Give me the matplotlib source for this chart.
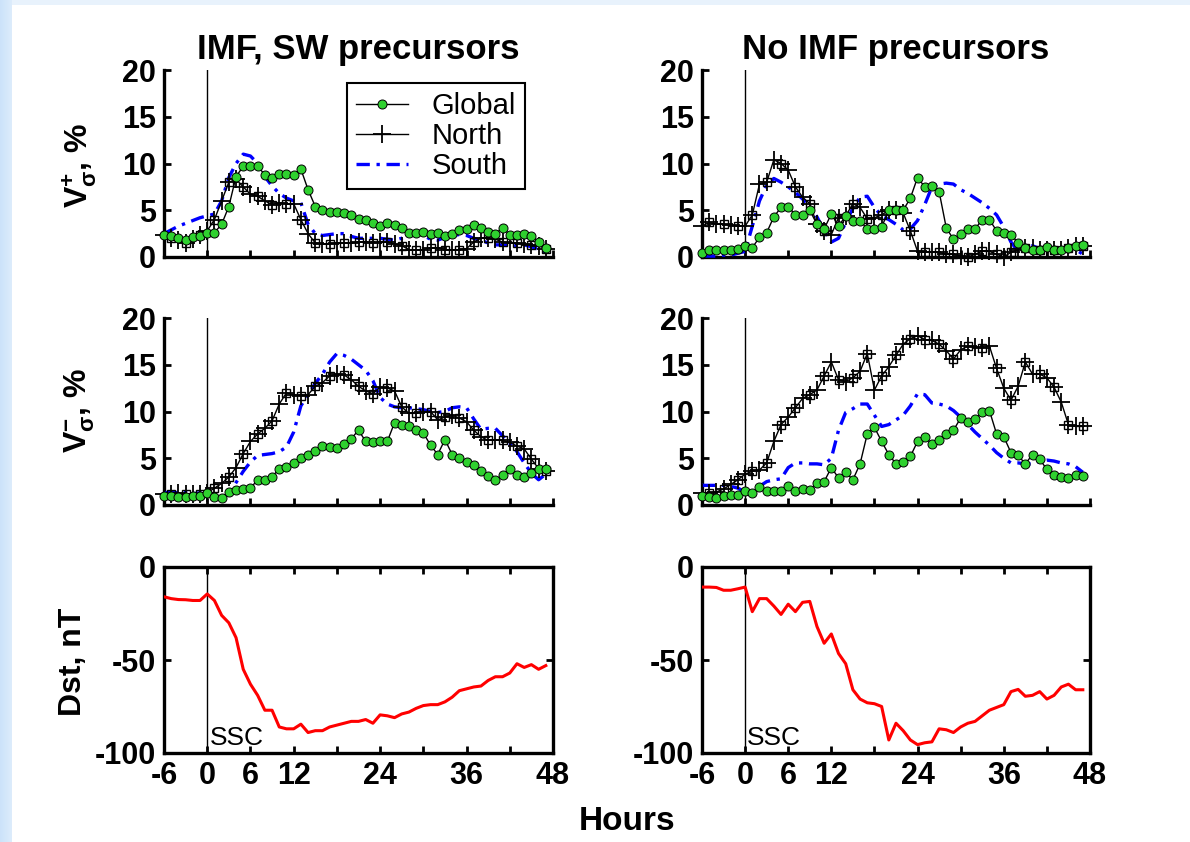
import numpy as np
import matplotlib
matplotlib.use("Agg")
import matplotlib.pyplot as plt
from matplotlib.lines import Line2D

plt.rcParams['font.family'] = ['Liberation Sans', 'DejaVu Sans']
plt.rcParams['font.weight'] = 'bold'
plt.rcParams['axes.unicode_minus'] = False
plt.rcParams['mathtext.fontset'] = 'custom'
plt.rcParams['mathtext.rm'] = 'Liberation Sans'
plt.rcParams['mathtext.bf'] = 'Liberation Sans:bold'
plt.rcParams['mathtext.it'] = 'Liberation Sans'

# ---- data: hourly values from 6 h before SSC to 47 h after ----
hours = list(range(-6, 48))

# V_sigma^+ (%) -- IMF, SW precursors
vp_imf_global = [2.3, 2.2, 2.0, 1.8, 2.1, 2.2, 2.6, 2.6, 3.5, 5.4, 8.6, 9.7, 9.7, 9.7,
                 8.8, 8.5, 8.9, 8.9, 8.8, 9.4, 7.2, 5.4, 5.0, 4.8, 4.8, 4.7, 4.5, 4.1,
                 4.0, 3.6, 3.3, 3.6, 3.4, 3.1, 2.6, 2.6, 2.7, 2.5, 2.6, 2.2, 2.5, 2.9,
                 3.0, 3.4, 3.1, 2.7, 2.5, 3.1, 2.4, 2.4, 2.5, 2.2, 1.6, 1.0]
vp_imf_north = [2.3, 2.0, 1.8, 1.5, 1.9, 2.3, 2.8, 4.0, 6.0, 8.0, 8.3, 7.5, 6.7, 6.5,
                6.0, 5.6, 5.8, 5.7, 5.7, 4.0, 2.5, 1.5, 1.4, 1.4, 1.5, 1.5, 1.5, 1.6,
                1.6, 1.5, 1.6, 1.6, 1.4, 1.2, 0.8, 0.7, 0.8, 1.0, 1.0, 0.8, 0.7, 0.8,
                0.9, 1.6, 2.0, 2.0, 1.9, 1.6, 1.5, 1.5, 1.4, 1.3, 1.2, 0.9]
vp_imf_south = [2.5, 2.9, 3.3, 3.6, 3.9, 4.2, 4.4, 4.6, 6.0, 8.5, 10.0, 11.0, 10.8, 10.0,
                8.6, 7.6, 6.8, 6.3, 6.0, 5.8, 3.5, 2.5, 2.3, 2.4, 2.5, 2.5, 2.2, 2.0,
                2.0, 2.0, 2.0, 1.9, 1.8, 2.0, 2.4, 2.6, 2.3, 1.9, 1.8, 2.1, 2.3, 2.4,
                2.3, 2.0, 1.8, 1.5, 1.3, 1.3, 1.2, 1.2, 1.3, 1.1, 0.8, 0.5]

# V_sigma^+ (%) -- no IMF precursors
vp_no_global = [0.4, 0.8, 0.8, 0.8, 0.7, 0.9, 1.2, 1.0, 2.1, 2.6, 4.3, 5.3, 5.4, 4.5,
                4.5, 5.0, 3.5, 3.0, 4.6, 3.3, 4.4, 3.9, 3.9, 3.0, 3.0, 3.2, 5.0, 5.0,
                5.0, 6.3, 8.5, 7.5, 7.6, 7.0, 3.1, 1.9, 2.5, 3.0, 3.0, 4.0, 4.0, 2.8,
                2.6, 2.4, 1.5, 1.0, 0.8, 0.8, 1.1, 0.8, 0.7, 1.0, 1.2, 1.3]
vp_no_north = [3.3, 3.7, 3.5, 3.5, 3.4, 3.3, 3.3, 4.5, 7.8, 8.0, 10.4, 10.0, 9.3, 7.5,
               6.4, 5.7, 3.5, 2.8, 2.4, 4.2, 4.4, 5.7, 5.3, 4.1, 4.2, 4.5, 5.0, 5.0,
               4.7, 2.8, 0.6, 0.5, 0.5, 0.5, 0.3, 0.3, 0.1, 0.0, 0.3, 0.6, 0.6, 0.3,
               0.0, 0.5, 0.8, 1.0, 1.0, 0.8, 0.7, 0.8, 0.8, 1.0, 1.2, 1.2]
vp_no_south = [0.1, 0.1, 0.1, 0.2, 0.2, 0.4, 0.6, 3.3, 6.0, 7.7, 8.4, 8.0, 7.5, 6.9,
               6.2, 5.3, 4.3, 2.8, 1.6, 2.0, 3.7, 5.2, 6.4, 6.5, 5.3, 4.4, 4.0, 3.5,
               2.9, 3.0, 3.9, 5.6, 7.5, 7.8, 7.9, 7.8, 7.2, 6.8, 6.3, 5.8, 5.2, 4.5,
               3.2, 1.6, 0.6, 1.0, 1.2, 0.9, 0.6, 0.6, 0.5, 0.8, 0.8, 0.3]

# V_sigma^- (%) -- IMF, SW precursors
vm_imf_global = [1.0, 1.0, 0.9, 0.9, 1.0, 1.0, 1.3, 0.9, 0.8, 1.4, 1.6, 1.7, 1.8, 2.7,
                 2.7, 3.0, 3.9, 4.1, 4.5, 5.0, 5.3, 5.8, 6.3, 6.2, 6.1, 6.5, 7.1, 8.0,
                 6.8, 6.7, 6.8, 6.8, 8.8, 8.6, 8.5, 8.0, 7.7, 6.4, 5.4, 7.0, 5.4, 5.0,
                 4.6, 4.3, 3.6, 3.1, 2.7, 3.2, 3.8, 3.2, 3.0, 3.4, 3.8, 3.8]
vm_imf_north = [1.2, 1.2, 1.3, 1.2, 1.2, 1.2, 1.3, 1.8, 2.3, 3.0, 4.0, 5.5, 6.8, 7.6,
                8.2, 9.0, 10.8, 12.0, 11.8, 11.7, 11.8, 12.7, 13.1, 13.8, 14.0, 13.9, 13.4, 12.7,
                12.2, 11.9, 12.6, 12.5, 12.2, 10.5, 9.8, 9.8, 10.0, 10.0, 9.1, 9.4, 9.6, 9.3,
                8.9, 8.0, 7.3, 6.9, 7.0, 6.9, 6.7, 6.3, 6.0, 4.9, 3.9, 3.6]
vm_imf_south = [1.3, 1.4, 1.3, 1.4, 1.2, 1.3, 1.0, 0.8, 0.7, 1.2, 2.4, 3.6, 4.6, 5.3,
                5.4, 5.5, 5.7, 6.2, 7.8, 10.6, 11.8, 13.0, 14.0, 15.3, 16.2, 16.0, 15.6, 15.0,
                14.4, 13.3, 11.5, 10.8, 10.5, 10.4, 10.4, 10.3, 10.2, 10.0, 9.9, 10.0, 10.4, 10.5,
                10.4, 9.2, 8.1, 8.2, 8.2, 7.4, 6.6, 5.7, 4.5, 3.4, 2.7, 3.3]

# V_sigma^- (%) -- no IMF precursors
vm_no_global = [1.0, 0.9, 0.75, 1.0, 1.1, 1.1, 1.5, 1.3, 1.9, 1.5, 1.5, 1.5, 2.0, 1.5,
                1.7, 1.6, 2.4, 2.5, 4.0, 2.9, 3.5, 2.7, 4.4, 7.6, 8.3, 6.8, 5.4, 4.4,
                4.6, 5.2, 6.8, 7.3, 6.5, 6.9, 7.6, 8.0, 9.3, 8.9, 9.2, 9.9, 10.1, 7.6,
                7.3, 5.6, 5.3, 4.4, 5.4, 4.9, 3.8, 3.2, 2.95, 2.9, 3.2, 3.1]
vm_no_north = [1.25, 1.25, 1.4, 1.7, 2.2, 2.7, 3.3, 3.6, 3.75, 4.5, 6.8, 8.6, 9.4, 10.4,
               11.4, 11.8, 12.3, 13.8, 15.3, 13.4, 13.2, 13.6, 14.3, 16.2, 12.3, 13.8, 14.8, 16.0,
               17.2, 17.8, 18.1, 17.7, 17.6, 17.2, 16.5, 15.6, 16.6, 17.0, 16.9, 16.8, 17.0, 14.6,
               12.5, 11.2, 12.7, 15.3, 14.0, 14.0, 13.6, 12.6, 11.0, 8.6, 8.4, 8.4]
vm_no_south = [2.1, 2.1, 2.1, 2.1, 2.0, 1.8, 1.4, 1.3, 2.0, 2.5, 2.7, 2.8, 4.0, 4.5,
               4.5, 4.4, 4.4, 4.3, 5.0, 8.0, 9.9, 10.3, 10.8, 10.8, 9.6, 8.4, 8.6, 9.1,
               9.6, 10.6, 11.9, 11.8, 10.9, 10.8, 10.6, 10.1, 9.4, 8.6, 7.8, 7.1, 6.4, 5.6,
               5.0, 4.5, 4.5, 4.4, 4.4, 4.7, 4.8, 4.7, 4.5, 4.4, 4.1, 3.5]

# Dst (nT)
dst_imf = [-16, -17, -17.5, -17.6, -18, -18, -14.5, -18, -26, -30, -38, -55, -63, -69,
           -77, -77, -86, -87, -87, -84.5, -89, -88, -88, -86, -85, -84, -83, -83,
           -82, -84, -79.5, -80, -81, -79, -78, -76, -74.5, -74, -74, -72.5, -70, -66.5,
           -65.5, -64.5, -64, -61, -59, -59, -57, -52, -54, -52.5, -55, -53]
dst_no = [-10.8, -10.8, -11, -12.5, -12.5, -11.7, -10.8, -24, -17, -17, -21, -25.5, -20, -24,
          -19, -18.5, -32, -41, -36, -46.5, -52, -66, -71, -73, -73.5, -75, -93, -84,
          -88, -93, -95.5, -94.5, -94, -87, -87.5, -89, -86, -84, -83, -80, -77, -75.5,
          -74, -67, -65.8, -69.5, -69, -67, -71, -69, -64.5, -63, -66, -66]

col_titles = ['IMF, SW precursors', 'No IMF precursors']
xtick_pos = [-6, 0, 6, 12, 18, 24, 30, 36, 42, 48]
xtick_lab = ['-6', '0', '6', '12', '', '24', '', '36', '', '48']

GREEN = '#2fd12f'
BLUE = '#0000ff'
RED = '#ff0000'

fig = plt.figure(figsize=(11.9, 8.42), dpi=100)
W, H = 1190.0, 842.0

# pale blue frame along the left and top edges
bg = fig.add_axes([0, 0, 1, 1], zorder=-10)
bg.set_axis_off()
grad = np.ones((int(H), int(W), 3))
edge = np.array([0.80, 0.89, 0.98])
left_w = 12
for i in range(left_w):
    t = i / left_w
    grad[:, i, :] = edge * (1 - 0.35 * t) + np.array([1, 1, 1]) * 0.35 * t
top_h = 5
for j in range(top_h):
    grad[j, left_w:, :] = np.array([0.91, 0.95, 0.99])
bg.imshow(grad, aspect='auto', extent=[0, 1, 0, 1], origin='upper')
bg.set_xlim(0, 1)
bg.set_ylim(0, 1)


def px_axes(x0, y0, x1, y1):
    return fig.add_axes([x0 / W, 1 - y1 / H, (x1 - x0) / W, (y1 - y0) / H])


cols = [(164, 553), (702, 1090)]
rows = [(70, 257), (318, 505), (567, 753)]

vp_sets = [(vp_imf_global, vp_imf_north, vp_imf_south),
           (vp_no_global, vp_no_north, vp_no_south)]
vm_sets = [(vm_imf_global, vm_imf_north, vm_imf_south),
           (vm_no_global, vm_no_north, vm_no_south)]
dst_sets = [dst_imf, dst_no]

TICK_SIZE = 22


def style_v(ax):
    ax.set_xlim(-6, 48)
    ax.set_ylim(0, 20)
    ax.set_yticks([0, 5, 10, 15, 20])
    ax.set_xticks(xtick_pos)
    ax.spines['top'].set_visible(False)
    ax.spines['right'].set_visible(False)
    for s in ('left', 'bottom'):
        ax.spines[s].set_linewidth(2.4)
    ax.tick_params(direction='in', length=5, width=2, labelsize=TICK_SIZE, pad=6)
    ax.tick_params(axis='x', labelbottom=False)
    ax.axvline(0, color='k', lw=1, zorder=1)


def draw_v(ax, g, n, s):
    ax.plot(hours, s, color=BLUE, ls='-.', lw=2.4, dashes=(4, 2, 1, 2),
            clip_on=False, zorder=3, label='South')
    ax.plot(hours, n, color='k', lw=1, marker='+', ms=13, mew=1.3,
            clip_on=False, zorder=4, label='North')
    ax.plot(hours[1::2], n[1::2], ls='none', marker='s', ms=6, mfc='none',
            mec='k', mew=1, clip_on=False, zorder=4)
    ax.plot(hours, g, color='k', lw=1, marker='o', ms=6.5, mfc=GREEN, mec='k',
            mew=0.7, clip_on=False, zorder=5, label='Global')


axes = {}
for c, (x0, x1) in enumerate(cols):
    # V_sigma^+
    ax = px_axes(x0, rows[0][0], x1, rows[0][1])
    style_v(ax)
    draw_v(ax, *vp_sets[c])
    ax.set_title(col_titles[c], fontsize=25, fontweight='bold', pad=8)
    axes[(0, c)] = ax
    # V_sigma^-
    ax = px_axes(x0, rows[1][0], x1, rows[1][1])
    style_v(ax)
    draw_v(ax, *vm_sets[c])
    axes[(1, c)] = ax
    # Dst
    ax = px_axes(x0, rows[2][0], x1, rows[2][1])
    ax.plot(hours, dst_sets[c], color=RED, lw=2.2, zorder=3)
    ax.axvline(0, color='k', lw=1, zorder=1)
    ax.set_xlim(-6, 48)
    ax.set_ylim(-100, 0)
    ax.set_yticks([-100, -50, 0])
    ax.set_xticks(xtick_pos)
    ax.set_xticklabels(xtick_lab)
    for s in ax.spines.values():
        s.set_linewidth(2.4)
    ax.tick_params(direction='in', length=5, width=2, labelsize=TICK_SIZE, pad=6,
                   top=True, right=True)
    ax.text(0.3, -92, 'SSC', fontsize=19, fontweight='normal', va='center', ha='left')
    axes[(2, c)] = ax

# row labels
fig.text(80 / W, 1 - 165 / H, r'$\mathbf{V}_{\mathrm{σ}}^{\mathbf{+}}$, %', rotation=90,
         fontsize=23, fontweight='bold', ha='center', va='center')
fig.text(80 / W, 1 - 410 / H, r'$\mathbf{V}_{\mathrm{σ}}^{\mathbf{-}}$, %', rotation=90,
         fontsize=23, fontweight='bold', ha='center', va='center')
fig.text(73 / W, 1 - 662 / H, 'Dst, nT', rotation=90,
         fontsize=23, fontweight='bold', ha='center', va='center')
fig.text(627 / W, 1 - 822 / H, 'Hours', fontsize=24, fontweight='bold',
         ha='center', va='center')

# legend
handles = [
    Line2D([], [], color='k', lw=1, marker='o', ms=6.5, mfc=GREEN, mec='k', mew=0.7),
    Line2D([], [], color='k', lw=1, marker='+', ms=13, mew=1.3),
    Line2D([], [], color=BLUE, ls='-.', lw=2.4, dashes=(4, 2, 1, 2)),
]
leg = axes[(0, 0)].legend(handles, ['Global', 'North', 'South'],
                          loc='upper left', bbox_to_anchor=(347 / W, 1 - 83 / H),
                          bbox_transform=fig.transFigure, borderaxespad=0,
                          prop={'size': 21, 'weight': 'normal'}, numpoints=1,
                          handlelength=1.8, labelspacing=0.08, handletextpad=0.8,
                          borderpad=0.3, fancybox=False, framealpha=1)
leg.get_frame().set_edgecolor('k')
leg.get_frame().set_linewidth(1.5)

fig.savefig('out.png', dpi=100)
